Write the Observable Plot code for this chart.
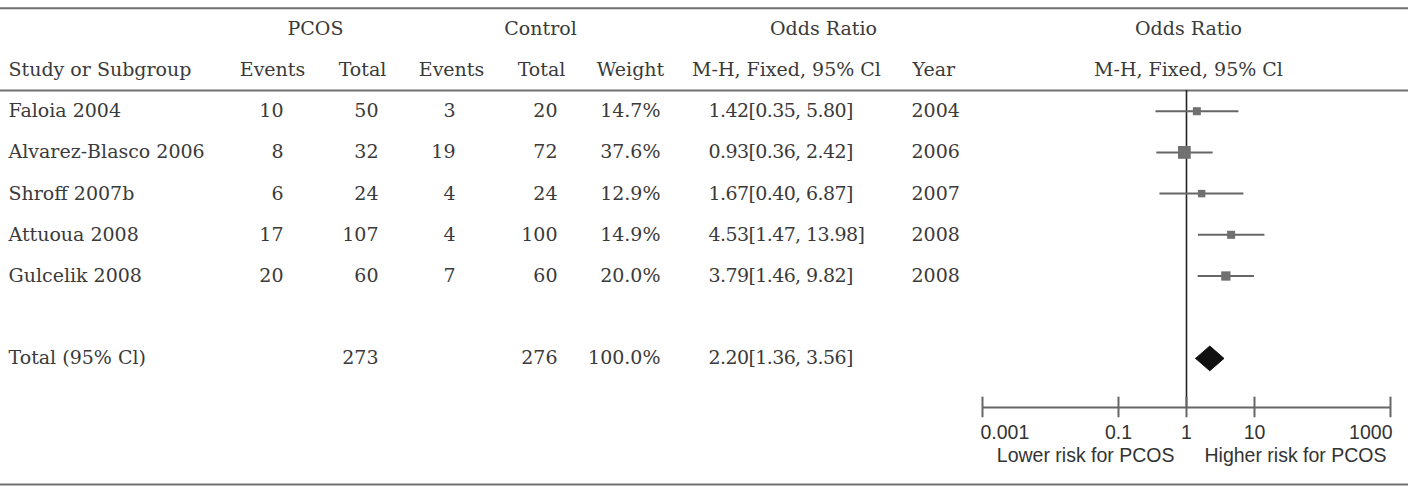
<!DOCTYPE html>
<html>
<head>
<meta charset="utf-8">
<script src="https://cdn.jsdelivr.net/npm/d3@7"></script>
<script src="https://cdn.jsdelivr.net/npm/@observablehq/plot@0.6"></script>
<style>
  html, body { margin: 0; padding: 0; background: #fff; }
  #chart { position: relative; width: 1416px; height: 489px; }
  #chart svg { position: absolute; left: 0; top: 0; }
</style>
</head>
<body>
<div id="chart"></div>
<script>
// ---- data ----
const studies = ["Faloia 2004", "Alvarez-Blasco 2006", "Shroff 2007b", "Attuoua 2008", "Gulcelik 2008"];
const pcosEvents = [10, 8, 6, 17, 20];
const pcosTotal = [50, 32, 24, 107, 60];
const ctrlEvents = [3, 19, 4, 4, 7];
const ctrlTotal = [20, 72, 24, 100, 60];
const weights = [14.7, 37.6, 12.9, 14.9, 20.0];
const oddsRatio = [1.42, 0.93, 1.67, 4.53, 3.79];
const ciLow = [0.35, 0.36, 0.40, 1.47, 1.46];
const ciHigh = [5.80, 2.42, 6.87, 13.98, 9.82];
const years = [2004, 2006, 2007, 2008, 2008];

const totalLabel = "Total (95% Cl)";
const totalPcos = 273;
const totalCtrl = 276;
const totalWeight = 100.0;
const totalOR = 2.20;
const totalLow = 1.36;
const totalHigh = 3.56;

const groupHeaders = ["PCOS", "Control", "Odds Ratio", "Odds Ratio"];
const columnHeaders = ["Study or Subgroup", "Events", "Total", "Events", "Total", "Weight", "M-H, Fixed, 95% Cl", "Year", "M-H, Fixed, 95% Cl"];
const axisTicks = [0.001, 0.1, 1, 10, 1000];
const axisTickLabels = ["0.001", "0.1", "1", "10", "1000"];
const riskLabels = ["Lower risk for PCOS", "Higher risk for PCOS"];

// ---- layout (row indices and column anchors) ----
const ROW_GROUP = -2, ROW_HEAD = -1, ROW_TOTAL = 6;
const RULE_TOP = -2.5, RULE_HEAD = -0.5, RULE_BOTTOM = 9.06;
const ROW_AXIS = 7.19, ROW_TICKLAB = 7.8, ROW_RISK = 8.36;
const W = 1416, H = 489;
const yScale = {domain: [-2.687, 9.182], range: [0, H]};

const groupX = [315, 540, 823, 1188];
const headX = [8, 272, 362, 451, 541, 630, 786, 912, 1188];
const headAnchor = ["start", "middle", "middle", "middle", "middle", "middle", "middle", "start", "middle"];
const col = {study: 8, pe: 283, pt: 378, ce: 455, ct: 557, w: 660, or: 708, year: 911};

const txt = "#3a3a3a";
const ruleColor = "#707070";

const fmt2 = d3.format(".2f");
const fmtW = d => d3.format(".1f")(d) + "%";
const orText = (o, l, h) => `${fmt2(o)}[${fmt2(l)}, ${fmt2(h)}]`;

const rows = studies.map((s, i) => ({
  row: i, study: s, pe: pcosEvents[i], pt: pcosTotal[i], ce: ctrlEvents[i], ct: ctrlTotal[i],
  w: weights[i], or: oddsRatio[i], lo: ciLow[i], hi: ciHigh[i], year: years[i]
}));
const totalRow = [{row: ROW_TOTAL, study: totalLabel, pt: totalPcos, ct: totalCtrl, w: totalWeight, or: totalOR, lo: totalLow, hi: totalHigh}];

const groups = groupHeaders.map((t, i) => ({t, x: groupX[i]}));
const heads = columnHeaders.map((t, i) => ({t, x: headX[i], a: headAnchor[i]}));

const textOpts = {fill: txt, fontSize: 19};

// ---- table plot ----
const table = Plot.plot({
  width: W, height: H, margin: 0,
  style: {fontFamily: "'DejaVu Serif', serif", fontSize: "19px", background: "transparent", color: txt},
  x: {type: "linear", domain: [0, W], range: [0, W], axis: null},
  y: {...yScale, axis: null},
  marks: [
    Plot.ruleY([RULE_TOP, RULE_HEAD, RULE_BOTTOM], {x1: 0, x2: 1408, stroke: ruleColor, strokeWidth: 2}),
    Plot.text(groups, {x: "x", y: ROW_GROUP, text: "t", textAnchor: "middle", ...textOpts}),
    Plot.text(heads.filter(d => d.a === "start"), {x: "x", y: ROW_HEAD, text: "t", textAnchor: "start", ...textOpts}),
    Plot.text(heads.filter(d => d.a === "middle"), {x: "x", y: ROW_HEAD, text: "t", textAnchor: "middle", ...textOpts}),
    Plot.text(rows.concat(totalRow), {x: col.study, y: "row", text: "study", textAnchor: "start", ...textOpts}),
    Plot.text(rows, {x: col.pe, y: "row", text: d => String(d.pe), textAnchor: "end", ...textOpts}),
    Plot.text(rows.concat(totalRow), {x: col.pt, y: "row", text: d => String(d.pt), textAnchor: "end", ...textOpts}),
    Plot.text(rows, {x: col.ce, y: "row", text: d => String(d.ce), textAnchor: "end", ...textOpts}),
    Plot.text(rows.concat(totalRow), {x: col.ct, y: "row", text: d => String(d.ct), textAnchor: "end", ...textOpts}),
    Plot.text(rows.concat(totalRow), {x: col.w, y: "row", text: d => fmtW(d.w), textAnchor: "end", ...textOpts}),
    Plot.text(rows.concat(totalRow), {x: col.or, y: "row", text: d => orText(d.or, d.lo, d.hi), textAnchor: "start", className: "ortext", ...textOpts}),
    Plot.text(rows, {x: col.year, y: "row", text: d => String(d.year), textAnchor: "start", ...textOpts})
  ]
});
// slightly tighter numerals in the odds-ratio column
d3.select(table).selectAll("g.ortext text").style("letter-spacing", "-0.6px");

// ---- forest plot (log scale) ----
const diamond = [
  {x: totalLow, y: ROW_TOTAL},
  {x: totalOR, y: ROW_TOTAL - 0.3},
  {x: totalHigh, y: ROW_TOTAL},
  {x: totalOR, y: ROW_TOTAL + 0.3},
  {x: totalLow, y: ROW_TOTAL}
];
const axisOpts = {fill: "#333", fontSize: 19.5, fontFamily: "'Liberation Sans', Arial, sans-serif"};
const forest = Plot.plot({
  width: W, height: H,
  marginLeft: 982, marginRight: 26, marginTop: 0, marginBottom: 0,
  style: {fontFamily: "'Liberation Sans', Arial, sans-serif", fontSize: "19px", background: "transparent"},
  x: {type: "log", domain: [0.001, 1000], axis: null},
  y: {...yScale, axis: null},
  r: {type: "sqrt", domain: [0, 37.6], range: [0, 7.2]},
  marks: [
    Plot.ruleX([1], {y1: RULE_HEAD, y2: ROW_AXIS, stroke: "#222", strokeWidth: 1.6}),
    Plot.link(rows, {x1: "lo", x2: "hi", y1: "row", y2: "row", stroke: "#666", strokeWidth: 2}),
    Plot.dot(rows, {x: "or", y: "row", r: "w", symbol: "square", fill: "#707070", stroke: "none"}),
    Plot.line(diamond, {x: "x", y: "y", fill: "#111", stroke: "#111", strokeWidth: 1}),
    Plot.ruleY([ROW_AXIS], {x1: axisTicks[0], x2: axisTicks[axisTicks.length - 1], stroke: "#666", strokeWidth: 2}),
    Plot.ruleX(axisTicks, {x: d => d, y1: ROW_AXIS - 0.25, y2: ROW_AXIS + 0.25, stroke: "#666", strokeWidth: 2}),
    Plot.text(axisTicks.slice(0, 1), {x: d => d, y: ROW_TICKLAB, text: () => axisTickLabels[0], textAnchor: "start", dx: -2, ...axisOpts}),
    Plot.text(axisTicks.slice(1, -1), {x: d => d, y: ROW_TICKLAB, text: d => axisTickLabels[axisTicks.indexOf(d)], textAnchor: "middle", ...axisOpts}),
    Plot.text(axisTicks.slice(-1), {x: d => d, y: ROW_TICKLAB, text: () => axisTickLabels[axisTicks.length - 1], textAnchor: "end", dx: 2, ...axisOpts}),
    Plot.text([riskLabels[0]], {x: 1, y: ROW_RISK, text: d => d, textAnchor: "end", dx: -12, ...axisOpts}),
    Plot.text([riskLabels[1]], {x: 1, y: ROW_RISK, text: d => d, textAnchor: "start", dx: 18, ...axisOpts})
  ]
});

const chart = document.getElementById("chart");
chart.appendChild(table);
chart.appendChild(forest);
</script>
</body>
</html>
